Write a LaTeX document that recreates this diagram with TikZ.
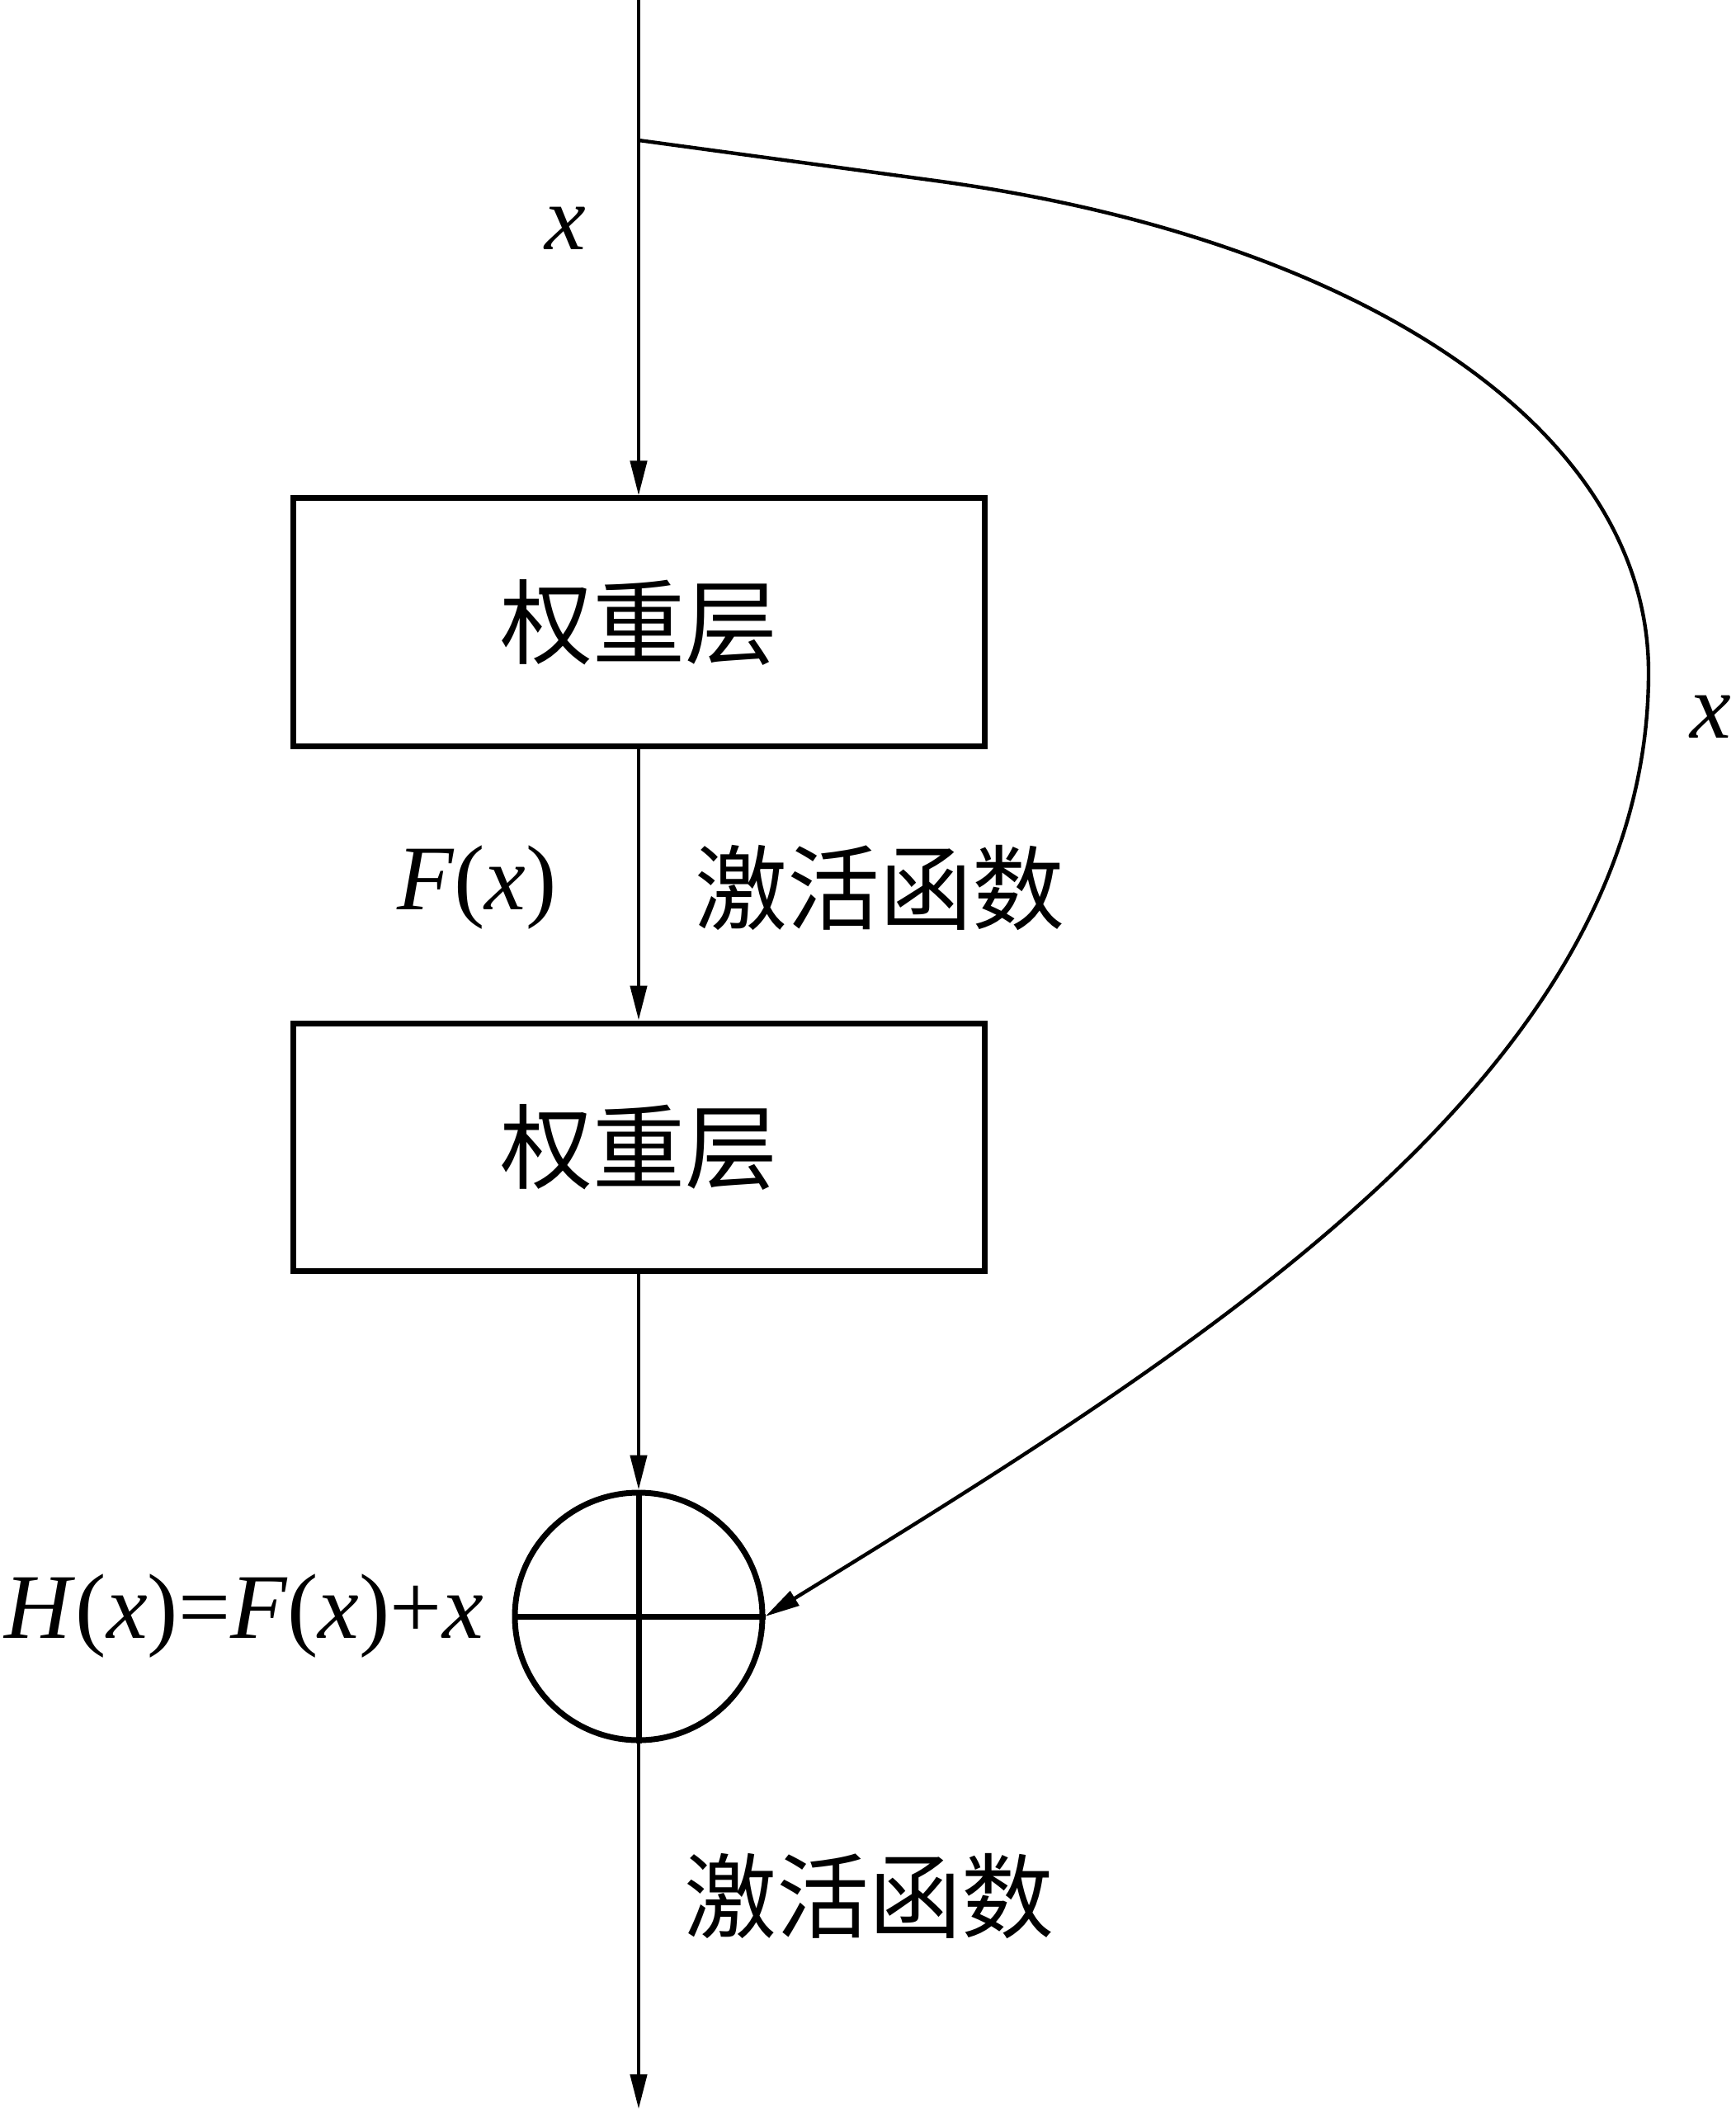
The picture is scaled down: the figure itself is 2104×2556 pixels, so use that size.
\documentclass[tikz,border=0pt]{standalone}
\usepackage{fontspec}
\setmainfont{Liberation Serif}
\newfontfamily\cjk{Noto Sans CJK SC}
\usetikzlibrary{arrows.meta}

\tikzset{
  wbox/.style={draw, line width=1.75pt, minimum width=209.5pt, minimum height=75pt, font=\fontsize{28}{34}\selectfont\cjk},
  conn/.style={line width=1.1pt, -{Triangle[length=10.5pt,width=5pt]}},
  sumnode/.style={draw, circle, line width=1.75pt, minimum size=75pt, inner sep=0pt},
  cjklabel/.style={font=\fontsize{28}{34}\selectfont\cjk}
}

\begin{document}
\begin{tikzpicture}[x=0.25pt, y=-0.25pt, font=\fontsize{28}{34}\selectfont]
    \useasboundingbox (0,0) rectangle (2104,2556);

    % blocks
    \node[wbox] (wl1) at (774,754) {权重层};
    \node[wbox] (wl2) at (774,1390) {权重层};
    \node[sumnode] (sum) at (774,1959) {};
    \draw[line width=1.75pt] (sum.north) -- (sum.south);
    \draw[line width=1.75pt] (sum.west) -- (sum.east);

    \coordinate (in) at (774,0);
    \coordinate (branch) at (774,170);
    \coordinate (out) at (774,2556);

    % main path
    \draw[conn] (in) -- (wl1.north);
    \draw[conn] (wl1.south) -- (wl2.north);
    \draw[conn] (wl2.south) -- (sum.north);
    \draw[conn] (sum.south) -- (out);

    % shortcut
    \draw[conn] (branch) -- (1141,220) .. controls (1641,289) and (1998,515) .. (1998,815)
        .. controls (1998,1300) and (1452,1636) .. (sum.east);

    % labels
    \node (lx1) at (685,277) {\textit{x}};
    \node (lx2) at (2073,869) {\textit{x}};
    \node (lfx) at (578,1076) {\textit{F}(\textit{x})};
    \node[cjklabel] (act1) at (1066,1076) {激活函数};
    \node[cjklabel] (act2) at (1053,2298) {激活函数};
    \node[anchor=east] (lhx) at (600,1959) {\textit{H}(\textit{x})=\textit{F}(\textit{x})+\textit{x}};
\end{tikzpicture}
\end{document}
